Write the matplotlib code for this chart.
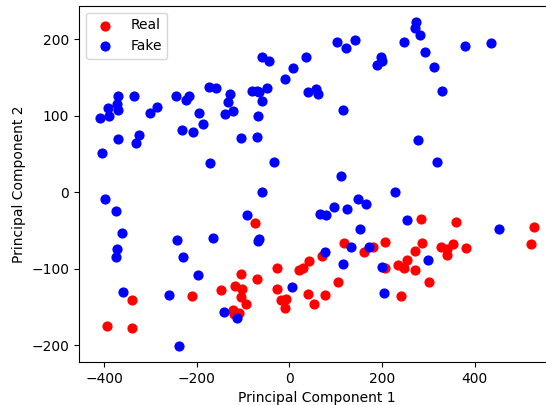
"""Scatter of the first two principal components, real vs fake samples."""

import matplotlib

matplotlib.use("Agg")
import matplotlib.pyplot as plt

# Real samples (PC1, PC2)
real_pc1 = [
    -393.5, -340.1, -340.1, -209.8, -147.1, -105.2, -118.2, -101.8, -103.9,
    -94.4, -120.8, -108.5, -119.7, -74.3, -70.4, -26.8, -26.8, -18.2, -7.3,
    -9.9, 20.7, 28.7, 41.3, 39.8, 284.8, 359.3, 527.5, 523.1, 118.0, 161.6,
    181.7, 206.1, 286.5, 271.8, 328.2, 339.5, 353.5, 341.2, 382.2, 253.5,
    235.1, 247.2, 272.0, 206.6, 302.7, 240.7, 104.6, 70.4, 52.1, 77.4,
]
real_pc2 = [
    -174.4, -140.4, -177.8, -135.2, -127.1, -107.2, -122.5, -125.8, -136.2,
    -146.4, -154.2, -157.4, -159.1, -39.5, -112.7, -98.6, -126.4, -140.8,
    -139.1, -151.6, -101.3, -98.7, -89.8, -132.5, -34.6, -38.2, -45.8, -68.0,
    -66.9, -77.4, -71.1, -64.6, -65.9, -76.3, -71.9, -74.1, -67.2, -82.2,
    -72.2, -88.8, -94.4, -98.8, -102.2, -99.2, -117.5, -135.3, -117.3, -83.9,
    -146.4, -133.6,
]

# Fake samples (PC1, PC2)
fake_pc1 = [
    -59.9, -43.4, 35.2, 8.4, -10.2, 39.5, -174.4, -159.3, -81.5, -70.7,
    -66.3, -49.1, -128.4, -132.7, -121.9, -139.8, -59.9, -68.5, -70.7,
    -105.2, -32.6, -59.9, -171.6, -194.7, -186.0, -207.7, -232.1, -244.4,
    -224.1, -216.9, -286.7, -301.2, -335.1, -324.3, -331.5, -371.0, -373.2,
    -370.4, -392.0, -389.2, -408.6, -371.0, -404.3, -398.4,
    273.6, 270.7, 282.8, 293.0, 313.1, 329.7, 380.1, 435.6, 247.0, 197.3,
    200.1, 189.3, 141.1, 122.9, 102.2, 56.8, 61.8, 116.5, 278.5, 319.6,
    112.1, 228.2, 147.6,
    -374.7, -361.1, -372.5, -374.7, -358.9, -243.5, -229.9, -196.8, -259.5,
    -238.6, -164.4, -91.0, -67.8, -65.0, -141.3, -113.9, 6.3,
    164.9, 125.1, 97.0, 66.1, 79.1, 254.8, 153.2, 452.3, 132.5, 171.4, 76.9,
    116.5, 298.8, 199.4, 204.4,
]
fake_pc2 = [
    177.3, 172.0, 177.3, 162.1, 148.1, 130.7, 138.0, 136.7, 132.8, 132.8,
    131.5, 136.7, 128.5, 118.4, 106.7, 102.4, 119.3, 100.1, 72.7, 71.4, 40.0,
    0.8, 38.7, 104.1, 88.9, 78.8, 81.8, 125.5, 120.7, 125.5, 111.9, 104.1,
    126.3, 74.9, 64.1, 125.5, 115.0, 107.6, 110.6, 100.1, 97.5, 69.3, 51.4,
    -9.2,
    222.2, 214.8, 206.0, 183.4, 164.2, 132.8, 190.9, 194.8, 196.1, 177.3,
    171.6, 166.8, 199.5, 188.2, 196.9, 134.6, 128.5, 107.6, 68.8, 39.6,
    20.9, 0.8, -9.2,
    -24.4, -53.6, -73.7, -85.0, -130.3, -62.4, -85.0, -107.7, -134.3,
    -200.5, -59.7, -29.7, -63.3, -60.7, -156.5, -163.9, -123.8,
    -15.7, -21.8, -18.8, -28.0, -29.7, -35.8, -48.4, -48.4, -71.1, -70.9,
    -78.4, -93.3, -88.5, -97.6, -131.2,
]


def pca_scatter(save_name):
    """Plot the two groups on the first two principal components."""

    fig = plt.figure(figsize=(5.46, 4.05), dpi=100)
    # axes run past the right edge of the image, as in the reference crop
    ax = fig.add_axes([79 / 546, 43 / 405, 476.5 / 546, 356.3 / 405])

    ax.scatter(real_pc1, real_pc2, color="red", s=40, label="Real")
    ax.scatter(fake_pc1, fake_pc2, color="blue", s=40, label="Fake")

    ax.set_xlim(-454.6, 575)
    ax.set_ylim(-221.8, 243.9)
    ax.set_xticks([-400, -200, 0, 200, 400])
    ax.set_yticks([-200, -100, 0, 100, 200])
    ax.spines["right"].set_visible(False)

    ax.set_xlabel("Principal Component 1")
    ax.set_ylabel("Principal Component 2")
    ax.legend(loc="upper left")

    fig.savefig(save_name, dpi=100)

    return fig, ax


pca_scatter("out.png")
